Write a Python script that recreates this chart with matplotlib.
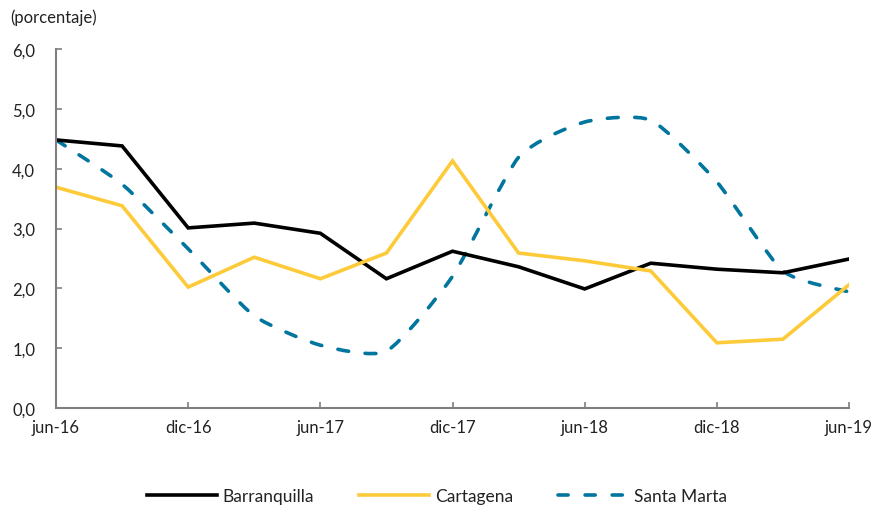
import matplotlib
matplotlib.use("Agg")
import matplotlib.pyplot as plt
import numpy as np
from matplotlib.path import Path
from matplotlib.patches import PathPatch
from matplotlib.lines import Line2D
from matplotlib.ticker import FuncFormatter

plt.rcParams['font.family'] = ['Lato', 'DejaVu Sans']

periods = ["jun-16", "sep-16", "dic-16", "mar-17", "jun-17", "sep-17", "dic-17",
           "mar-18", "jun-18", "sep-18", "dic-18", "mar-19", "jun-19"]
barranquilla = [4.48, 4.38, 3.01, 3.09, 2.92, 2.16, 2.62, 2.36, 1.99, 2.42, 2.32, 2.26, 2.49]
cartagena = [3.69, 3.38, 2.02, 2.52, 2.16, 2.59, 4.13, 2.59, 2.46, 2.29, 1.09, 1.15, 2.06]
santa_marta = [4.48, 3.74, 2.66, 1.54, 1.05, 0.95, 2.20, 4.19, 4.78, 4.81, 3.78, 2.29, 1.94]
tick_labels = ["jun-16", "dic-16", "jun-17", "dic-17", "jun-18", "dic-18", "jun-19"]

BLACK = "#000000"
YELLOW = "#FDCB3A"
BLUE = "#00759E"
SPINE = "#7f7f7f"
LW = 2.6
DASH = (0, (3.0, 4.6))

fig = plt.figure(figsize=(8.78, 5.10), dpi=100)
ax = fig.add_axes([56/878, 1-409/510, (849-56)/878, (409-50)/510])

x = np.arange(len(periods))
ax.plot(x, barranquilla, color=BLACK, lw=LW, solid_joinstyle='miter')
ax.plot(x, cartagena, color=YELLOW, lw=LW, solid_joinstyle='miter')

# smoothed rendering of Santa Marta line (Bezier through the data points)
def smooth_path(xs, ys, t=0.1):
    xs = np.asarray(xs, float); ys = np.asarray(ys, float)
    n = len(xs)
    verts = [(xs[0], ys[0])]
    codes = [Path.MOVETO]
    for i in range(n - 1):
        p0 = np.array([xs[max(i-1, 0)], ys[max(i-1, 0)]])
        p1 = np.array([xs[i], ys[i]])
        p2 = np.array([xs[i+1], ys[i+1]])
        p3 = np.array([xs[min(i+2, n-1)], ys[min(i+2, n-1)]])
        c1 = p1 + (p2 - p0) * t
        c2 = p2 - (p3 - p1) * t
        verts += [tuple(c1), tuple(c2), tuple(p2)]
        codes += [Path.CURVE4] * 3
    return Path(verts, codes)

sm = PathPatch(smooth_path(x, santa_marta), facecolor='none', edgecolor=BLUE,
               lw=LW, linestyle=DASH, capstyle='round')
ax.add_patch(sm)

ax.set_xlim(0, len(periods) - 1)
ax.set_ylim(0, 6)
ax.set_yticks(np.arange(0, 6.01, 1.0))
ax.yaxis.set_major_formatter(FuncFormatter(lambda v, p: f"{v:.1f}".replace(".", ",")))
ax.set_xticks(x[::2])
ax.set_xticklabels(tick_labels)

for s in ["top", "right"]:
    ax.spines[s].set_visible(False)
for s in ["left", "bottom"]:
    ax.spines[s].set_color(SPINE)
    ax.spines[s].set_linewidth(1.5)
ax.tick_params(axis='both', direction='in', length=4, width=1.2, color=SPINE,
               labelsize=12, colors="#222222")
ax.tick_params(axis='y', pad=15)
ax.tick_params(axis='x', pad=8)

fig.text(10/878, 1-18/510, "(porcentaje)", fontsize=12, color="#222222",
         ha='left', va='center')

handles = [Line2D([], [], color=BLACK, lw=LW),
           Line2D([], [], color=YELLOW, lw=LW),
           Line2D([], [], color=BLUE, lw=LW, linestyle=(0, (2.8, 4.7)),
                  dash_capstyle='round')]
fig.legend(handles, ["Barranquilla", "Cartagena", "Santa Marta"], loc='center',
           bbox_to_anchor=(437/878, 1-497/510), ncol=3, frameon=False,
           fontsize=12.5, handlelength=4.0, columnspacing=2.6, handletextpad=0.35,
           labelcolor="#222222")

fig.savefig("out.png", dpi=100)
